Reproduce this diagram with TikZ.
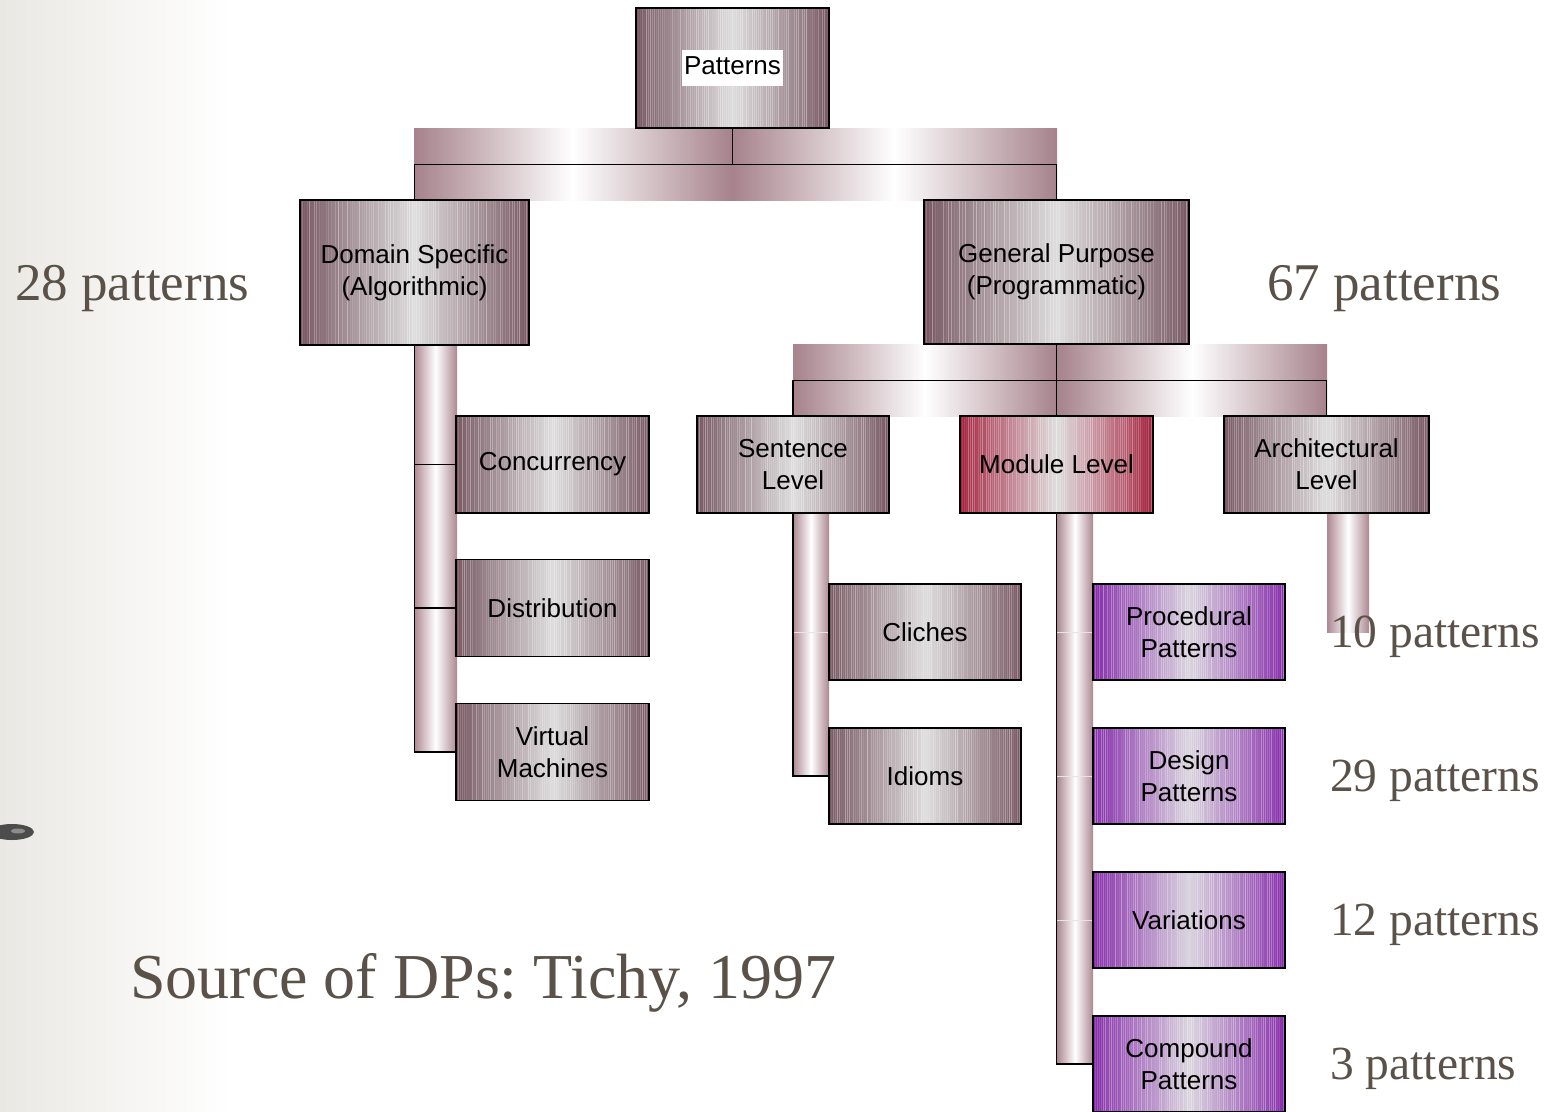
\documentclass[tikz,border=0pt]{standalone}
\usepackage{fontspec}
\usetikzlibrary{calc}
\newfontfamily\lsans{Liberation Sans}
\newfontfamily\lserif{Liberation Serif}
\definecolor{mauve}{RGB}{120,88,98}
\definecolor{boxmid}{RGB}{222,221,222}
\definecolor{modred}{RGB}{164,34,62}
\definecolor{purp}{RGB}{134,44,170}
\definecolor{purpmid}{RGB}{218,212,222}
\definecolor{band}{RGB}{166,130,140}
\definecolor{pipe}{RGB}{172,136,146}
\definecolor{lbl}{RGB}{90,82,72}
\definecolor{bgl}{RGB}{234,232,227}
\pgfmathsetseed{7}
% striped gradient fill used inside the boxes
\newcommand\stripefill[2]{%
  \shade[left color=#1, right color=#1, middle color=#2]
    (path picture bounding box.south west) rectangle (path picture bounding box.north east);
  \path (path picture bounding box.north west) coordinate (ppa)
        (path picture bounding box.south east) coordinate (ppb);
  \foreach \k in {0,...,96}{%
    \pgfmathsetmacro\op{0.38*rnd}%
    \draw[white, opacity=\op, line width=1pt]
      ($(ppa)!{\k/96}!(ppa -| ppb)$) -- ($(ppa |- ppb)!{\k/96}!(ppb)$);
  }%
}
\begin{document}
\begin{tikzpicture}[x=1pt,y=-1pt,
  box/.style={draw=black, line width=1.4pt, inner sep=0pt, align=center,
              font=\lsans\fontsize{26}{32}\selectfont},
  mbox/.style={box, path picture={\stripefill{mauve}{boxmid}}},
  rbox/.style={box, path picture={\stripefill{modred}{boxmid}}},
  pbox/.style={box, path picture={\stripefill{purp}{purpmid}}},
  link/.style={draw=black, line width=1.5pt},
  faint/.style={draw=black!10, line width=0.8pt},
  bandfill/.style={left color=band, right color=band, middle color=white},
  pipefill/.style={left color=pipe, right color=pipe, middle color=white},
  count/.style={anchor=base west, text=lbl, inner sep=0pt,
                font=\lserif\fontsize{47.5}{56}\selectfont},
]
\clip (0,0) rectangle (1552,1111);
\fill[white] (0,0) rectangle (1552,1111);
\shade[left color=bgl, right color=white] (0,0) rectangle (230,1111);
% small dark mark at the left edge
\fill[black!70] (12,832) ellipse (22 and 8);
\fill[black!45] (18,831) ellipse (7 and 2.5);

% connector bands
\shade[bandfill] (414,128) rectangle (732,164);
\shade[bandfill] (732,128) rectangle (1057,164);
\shade[bandfill] (414,164) rectangle (732,200);
\shade[bandfill] (732,164) rectangle (1057,200);
\shade[bandfill] (793,344) rectangle (1057,380);
\shade[bandfill] (1057,344) rectangle (1327,380);
\shade[bandfill] (793,380) rectangle (1057,416);
\shade[bandfill] (1057,380) rectangle (1327,416);

% pipes
\shade[pipefill] (414,345) rectangle (457,752);
\shade[pipefill] (793,513) rectangle (829,776);
\shade[pipefill] (1057,513) rectangle (1093,1064);
\shade[pipefill] (1327,513) rectangle (1369,632);

% boxes
\node[mbox, minimum width=193pt, minimum height=120pt] (pat) at (732.5,68)
  {\setlength\fboxsep{2pt}\colorbox{white}{\strut Patterns}};
\node[mbox, minimum width=229pt, minimum height=145pt] (dom) at (414.5,272.5)
  {Domain Specific\\(Algorithmic)};
\node[mbox, minimum width=265pt, minimum height=144pt] (gp) at (1056.5,272)
  {General Purpose\\(Programmatic)};

\node[mbox, minimum width=193pt, minimum height=97pt] (conc) at (552.5,464.5) {Concurrency};
\node[mbox, minimum width=193pt, minimum height=97pt] (dist) at (552.5,608) {Distribution};
\node[mbox, minimum width=193pt, minimum height=97pt] (virt) at (552.5,752) {Virtual\\Machines};

\node[mbox, minimum width=192pt, minimum height=97pt] (sent) at (793,464.5) {Sentence\\Level};
\node[rbox, minimum width=193pt, minimum height=97pt] (mod) at (1056.5,464.5) {Module Level};
\node[mbox, minimum width=205pt, minimum height=97pt] (arch) at (1326.5,464.5) {Architectural\\Level};

\node[mbox, minimum width=192pt, minimum height=96pt] (cli) at (925,632) {Cliches};
\node[mbox, minimum width=192pt, minimum height=96pt] (idi) at (925,776) {Idioms};

\node[pbox, minimum width=192pt, minimum height=96pt] (proc) at (1189,632) {Procedural\\Patterns};
\node[pbox, minimum width=192pt, minimum height=96pt] (des) at (1189,776) {Design\\Patterns};
\node[pbox, minimum width=192pt, minimum height=96pt] (var) at (1189,920) {Variations};
\node[pbox, minimum width=192pt, minimum height=96pt] (comp) at (1189,1064) {Compound\\Patterns};

% connectors
\draw[link] (pat.south) -- ++(0,36) -| (dom.north);
\draw[link] (pat.south) -- ++(0,36) -| (gp.north);
\draw[link] (gp.south) -- (mod.north);
\draw[link] (gp.south) -- ++(0,36) -| (sent.north);
\draw[link] (gp.south) -- ++(0,36) -| (arch.north);
\draw[link] (dom.south) |- (conc.west);
\draw[link] (dom.south) |- (dist.west);
\draw[link] (dom.south) |- (virt.west);
\draw[faint] (sent.south) |- (cli.west);
\draw[link] (sent.south) |- (idi.west);
\draw[faint] (mod.south) |- (proc.west);
\draw[faint] (mod.south) |- (des.west);
\draw[faint] (mod.south) |- (var.west);
\draw[link] (mod.south) |- (comp.west);

% pattern counts
\node[count, font=\lserif\fontsize{53}{60}\selectfont] (c28) at (15,300) {28 patterns};
\node[count, font=\lserif\fontsize{53}{60}\selectfont] (c67) at (1267,300) {67 patterns};
\node[count] (c10) at (1330,647) {10 patterns};
\node[count] (c29) at (1330,791) {29 patterns};
\node[count] (c12) at (1330,935) {12 patterns};
\node[count] (c3) at (1330,1079) {3 patterns};

\node[anchor=base west, text=lbl, inner sep=0pt, font=\lserif\fontsize{64}{72}\selectfont]
  (src) at (130,998) {\frenchspacing Source of DPs: Tichy, 1997};
\end{tikzpicture}
\end{document}
